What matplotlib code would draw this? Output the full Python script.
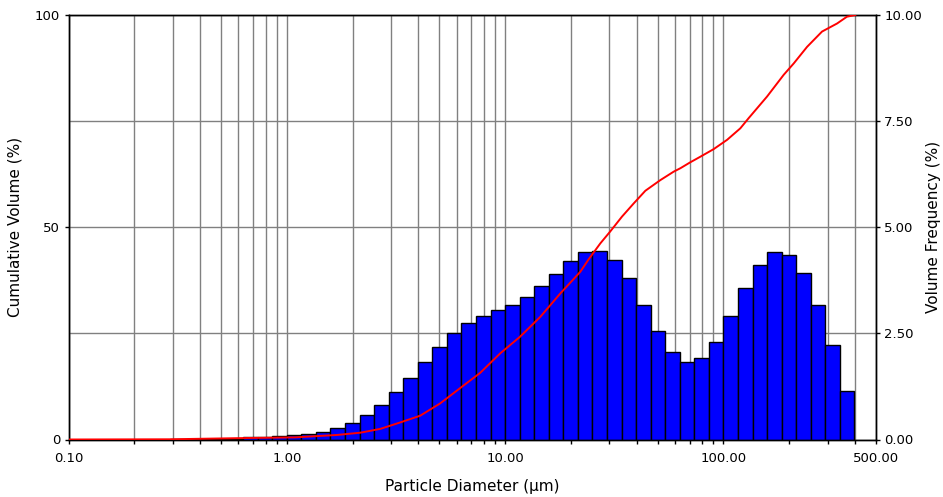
import matplotlib
matplotlib.use("Agg")
import matplotlib.pyplot as plt
from matplotlib.ticker import FixedLocator, NullFormatter

plt.rcParams['font.family'] = ['DejaVu Sans']

# size class edges (um) and volume frequency (%) per class
bin_edges = [0.2929, 0.3415, 0.3981, 0.4642, 0.5412, 0.6310, 0.7356, 0.8577,
             1.0, 1.1659, 1.3594, 1.5849, 1.8478, 2.1544, 2.5119, 2.9286,
             3.4146, 3.9811, 4.6416, 5.4117, 6.3096, 7.3564, 8.5770,
             10.0, 11.659, 13.594, 15.849, 18.478, 21.544, 25.119, 29.286,
             34.146, 39.811, 46.416, 54.117, 63.096, 73.564, 85.770,
             100.0, 116.59, 135.94, 158.49, 184.78, 215.44, 251.19, 292.86,
             341.46, 398.11]
vol_freq = [0.02, 0.02, 0.02, 0.02, 0.02, 0.06, 0.06, 0.085, 0.11, 0.13,
            0.18, 0.27, 0.39, 0.58, 0.81, 1.11, 1.44, 1.82, 2.17, 2.50,
            2.74, 2.90, 3.04, 3.16, 3.35, 3.61, 3.89, 4.20, 4.41, 4.43,
            4.22, 3.80, 3.18, 2.56, 2.05, 1.82, 1.92, 2.29, 2.90, 3.56,
            4.11, 4.41, 4.35, 3.92, 3.18, 2.22, 1.14]

# cumulative volume curve
cum_size = [0.1, 0.292, 0.656, 1.09, 1.37, 1.69, 2.17, 2.68, 3.30, 4.08,
            5.04, 6.22, 7.69, 9.50, 11.7, 14.5, 17.9, 22.1, 24.1, 27.3,
            30.3, 34.3, 38.8, 43.9, 51.4, 59.2, 63.5, 70.5, 78.3, 90.2,
            104, 119.5, 130.5, 158.5, 188.8, 210, 241.7, 283, 331.7, 368, 402]
cum_vol = [0, 0.05, 0.35, 0.5, 0.8, 1.06, 1.6, 2.5, 4.0, 5.6,
           8.5, 12.1, 15.7, 20.3, 24.2, 28.9, 34.4, 39.5, 42.4, 46.2,
           49.0, 52.5, 55.6, 58.6, 61.1, 63.1, 63.9, 65.3, 66.6, 68.4,
           70.6, 73.3, 75.7, 80.8, 85.9, 88.6, 92.5, 96.1, 98.0, 99.6, 100]

x_major = [0.1, 1, 10, 100, 500]
x_labels = ["0.10", "1.00", "10.00", "100.00", "500.00"]
x_minor = [0.2, 0.3, 0.4, 0.5, 0.6, 0.7, 0.8, 0.9,
           2, 3, 4, 5, 6, 7, 8, 9,
           20, 30, 40, 50, 60, 70, 80, 90,
           200, 300, 400]
freq_ticks = [0, 2.5, 5, 7.5, 10]
freq_labels = ["0.00", "2.50", "5.00", "7.50", "10.00"]
cum_ticks = [0, 50, 100]

fig = plt.figure(figsize=(9.43, 4.97), dpi=100)
# base axes: frequency bars + grid (right axis); twin on top: cumulative line (left axis)
ax = fig.add_axes([68.5 / 943, 1 - 439.5 / 497, (876 - 68.5) / 943, (439.5 - 15) / 497])
axc = ax.twinx()

widths = [bin_edges[i + 1] - bin_edges[i] for i in range(len(vol_freq))]
ax.bar(bin_edges[:-1], vol_freq, width=widths, align='edge',
       color='#0000ff', edgecolor='black', linewidth=1.0, zorder=3)
axc.plot(cum_size, cum_vol, color='#ff0000', linewidth=1.4, zorder=4)

ax.set_xscale('log')
ax.set_xlim(0.1, 500)
ax.set_ylim(0, 10)
axc.set_ylim(0, 100)

ax.xaxis.set_major_locator(FixedLocator(x_major))
ax.set_xticklabels(x_labels)
ax.xaxis.set_minor_locator(FixedLocator(x_minor))
ax.xaxis.set_minor_formatter(NullFormatter())

ax.yaxis.tick_right()
ax.yaxis.set_label_position('right')
ax.set_yticks(freq_ticks)
ax.set_yticklabels(freq_labels)

axc.yaxis.tick_left()
axc.yaxis.set_label_position('left')
axc.set_yticks(cum_ticks)

ax.grid(True, which='both', axis='x', color='#808080', linewidth=1.0)
ax.grid(True, which='major', axis='y', color='#808080', linewidth=1.0)
ax.set_axisbelow(True)

for a in (ax, axc):
    a.tick_params(which='both', direction='out', length=3, width=1, color='black',
                  labelsize=9.5, pad=3)
    for s in a.spines.values():
        s.set_linewidth(1.0)
        s.set_color('black')
ax.tick_params(axis='x', pad=6)

ax.set_xlabel("Particle Diameter (\u00b5m)", fontsize=11, labelpad=10)
axc.set_ylabel("Cumulative Volume (%)", fontsize=11, labelpad=9)
ax.set_ylabel("Volume Frequency (%)", fontsize=11, labelpad=3, rotation=90)

fig.savefig("out.png", dpi=100)
